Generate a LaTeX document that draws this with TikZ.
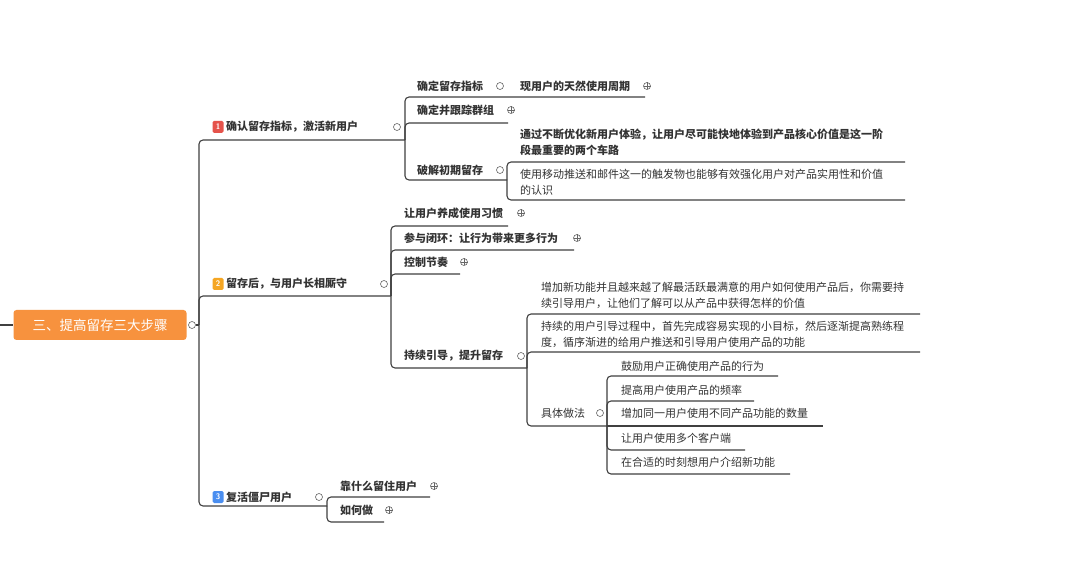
\documentclass[tikz,border=0pt]{standalone}
\usepackage{fontspec}
\newfontfamily\cjk{Noto Sans CJK SC}
\definecolor{rootc}{HTML}{F7923E}
\definecolor{bred}{HTML}{E5534B}
\definecolor{borg}{HTML}{F5A623}
\definecolor{bblu}{HTML}{4A8EF0}
\begin{document}
\begin{tikzpicture}[x=1pt,y=-1pt,
  ln/.style={draw=black!75,line width=1.1pt,rounded corners=4pt},
  t/.style={anchor=west,inner sep=0pt,text=black!80,font=\cjk\fontsize{11}{15}\selectfont},
  tb/.style={t,font=\cjk\bfseries\fontsize{11}{15}\selectfont},
  para/.style={t,align=left},
  tog/.style={circle,draw=black!60,line width=0.6pt,inner sep=0pt,minimum size=7pt},
  badge/.style={rounded corners=1.5pt,fill=#1,text=white,inner sep=0pt,minimum width=11pt,minimum height=12pt,font=\sffamily\bfseries\fontsize{8}{9}\selectfont}]
\useasboundingbox (0,0) rectangle (1080,588);
\fill[white] (0,0) rectangle (1080,588);
% root
\node[fill=rootc,rounded corners=3pt,minimum width=173pt,minimum height=30pt,inner sep=0pt,text=white,font=\cjk\fontsize{13.5}{15}\selectfont] (root) at (100,325) {三、提高留存三大步骤};
\coordinate (lft) at (0,325);
\draw[ln] (lft) -- (root.west);
\node[tog] (rtog) at (192,325) {};
\coordinate (trunk) at (199,325);
\draw[ln] (rtog.east) -- (trunk);
% branch 1
\node[badge=bred] (b1) at (218,127) {1};
\node[tb] (n1) at (226,127) {确认留存指标，激活新用户};
\node[tog] (n1t) at (397,127) {};
\coordinate (u1) at (405,140);
\draw[ln] (trunk) -- (199,140) -- (u1);
% branch 2
\node[badge=borg] (b2) at (218,284) {2};
\node[tb] (n2) at (226,284) {留存后，与用户长相厮守};
\node[tog] (n2t) at (384,284) {};
\coordinate (u2) at (391,296);
\draw[ln] (trunk) -- (199,296) -- (u2);
% branch 3
\node[badge=bblu] (b3) at (218,497) {3};
\node[tb] (n3) at (226,497) {复活僵尸用户};
\node[tog] (n3t) at (319,497) {};
\coordinate (u3) at (327,506);
\draw[ln] (trunk) -- (199,506) -- (u3);

% branch1 children
\node[tb] (c11) at (417,86) {确定留存指标};
\node[tog] (c11t) at (500,86) {};
\node[tb] (c111) at (520,86) {现用户的天然使用周期};
\node[tog] (c111t) at (647,86) {}; \draw[black!60,line width=0.6pt] (643.5,86)--(650.5,86) (647,82.5)--(647,89.5);
\coordinate (e11) at (645,97);
\draw[ln] (u1) -- (405,97) -- (e11);
\node[tb] (c12) at (417,110) {确定并跟踪群组};
\node[tog] (c12t) at (511,110) {}; \draw[black!60,line width=0.6pt] (507.5,110)--(514.5,110) (511,106.5)--(511,113.5);
\coordinate (e12) at (508,123);
\draw[ln] (u1) -- (405,123) -- (e12);
\node[tb] (c13) at (417,170) {破解初期留存};
\node[tog] (c13t) at (500,170) {};
\coordinate (e13) at (507,180);
\draw[ln] (u1) -- (405,180) -- (e13);
\node[para,font=\cjk\bfseries\fontsize{11}{16}\selectfont] (c131) at (520,142) {通过不断优化新用户体验，让用户尽可能快地体验到产品核心价值是这一阶\\段最重要的两个车路};
\coordinate (e131) at (905,162);
\draw[ln] (e13) -- (507,162) -- (e131);
\node[para,font=\cjk\fontsize{11}{16}\selectfont] (c132) at (520,182) {使用移动推送和邮件这一的触发物也能够有效强化用户对产品实用性和价值\\的认识};
\coordinate (e132) at (905,200);
\draw[ln] (e13) -- (507,200) -- (e132);

% branch2 children
\node[tb] (c21) at (404,213) {让用户养成使用习惯};
\node[tog] (c21t) at (521,213) {}; \draw[black!60,line width=0.6pt] (517.5,213)--(524.5,213) (521,209.5)--(521,216.5);
\coordinate (e21) at (508,226);
\draw[ln] (u2) -- (391,226) -- (e21);
\node[tb] (c22) at (404,238) {参与闭环：让行为带来更多行为};
\node[tog] (c22t) at (577,238) {}; \draw[black!60,line width=0.6pt] (573.5,238)--(580.5,238) (577,234.5)--(577,241.5);
\coordinate (e22) at (574,250);
\draw[ln] (u2) -- (391,250) -- (e22);
\node[tb] (c23) at (404,262) {控制节奏};
\node[tog] (c23t) at (464,262) {}; \draw[black!60,line width=0.6pt] (460.5,262)--(467.5,262) (464,258.5)--(464,265.5);
\coordinate (e23) at (460,274);
\draw[ln] (u2) -- (391,274) -- (e23);
\node[tb] (c24) at (404,356) {持续引导，提升留存};
\node[tog] (c24t) at (521,356) {};
\coordinate (e24) at (527,368);
\draw[ln] (u2) -- (391,368) -- (e24);
\node[para,font=\cjk\fontsize{11}{16}\selectfont] (c241) at (541,295) {增加新功能并且越来越了解最活跃最满意的用户如何使用产品后，你需要持\\续引导用户，让他们了解可以从产品中获得怎样的价值};
\coordinate (e241) at (920,314);
\draw[ln] (e24) -- (527,314) -- (e241);
\node[para,font=\cjk\fontsize{11}{16}\selectfont] (c242) at (541,334) {持续的用户引导过程中，首先完成容易实现的小目标，然后逐渐提高熟练程\\度，循序渐进的给用户推送和引导用户使用产品的功能};
\coordinate (e242) at (920,352);
\draw[ln] (e24) -- (527,352) -- (e242);
\node[t] (c243) at (541,413) {具体做法};
\node[tog] (c243t) at (600,413) {};
\coordinate (e243) at (607,426);
\draw[ln] (e24) -- (527,426) -- (e243);
\node[t] (d1) at (621,366) {鼓励用户正确使用产品的行为};
\coordinate (f1) at (778,376);
\draw[ln] (e243) -- (607,376) -- (f1);
\node[t] (d2) at (621,390) {提高用户使用产品的频率};
\coordinate (f2) at (754,401);
\draw[ln] (e243) -- (607,401) -- (f2);
\node[t] (d3) at (621,413) {增加同一用户使用不同产品功能的数量};
\coordinate (f3) at (823,426);
\draw[ln] (e243) -- (f3);
\node[t] (d4) at (621,438) {让用户使用多个客户端};
\coordinate (f4) at (745,450);
\draw[ln] (e243) -- (607,450) -- (f4);
\node[t] (d5) at (621,462) {在合适的时刻想用户介绍新功能};
\coordinate (f5) at (790,474);
\draw[ln] (e243) -- (607,474) -- (f5);

% branch3 children
\node[tb] (c31) at (340,486) {靠什么留住用户};
\node[tog] (c31t) at (434,486) {}; \draw[black!60,line width=0.6pt] (430.5,486)--(437.5,486) (434,482.5)--(434,489.5);
\coordinate (e31) at (430,497);
\draw[ln] (u3) -- (327,497) -- (e31);
\node[tb] (c32) at (340,510) {如何做};
\node[tog] (c32t) at (389,510) {}; \draw[black!60,line width=0.6pt] (385.5,510)--(392.5,510) (389,506.5)--(389,513.5);
\coordinate (e32) at (384,522);
\draw[ln] (u3) -- (327,522) -- (e32);
\end{tikzpicture}
\end{document}
